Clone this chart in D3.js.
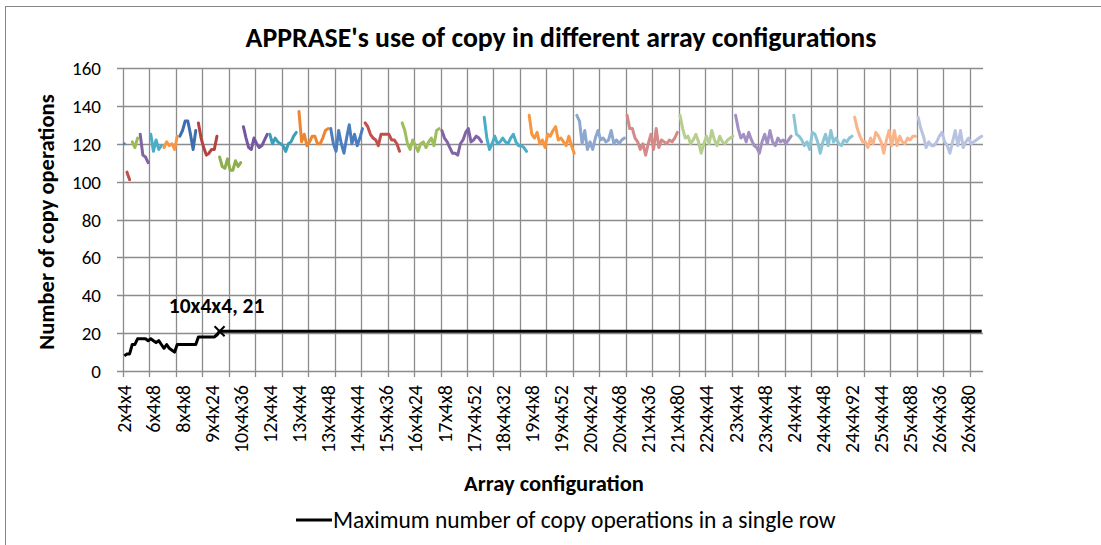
<!DOCTYPE html>
<html>
<head>
<meta charset="utf-8">
<script src="https://cdn.jsdelivr.net/npm/d3@7"></script>
<style>
  body { margin: 0; background: #fff; }
  text { font-family: Carlito, Calibri, Lato, sans-serif; fill: #000; }
</style>
</head>
<body>
<svg id="chart" width="1101" height="545"></svg>
<script>
// rows in the array (first number of AxBxC); each row r has columns 4 .. 4*(r-1)
var rows = [2,3,4,5,6,7,8,9,10,11,12,13,14,15,16,17,18,19,20,21,22,23,24,25,26];
var tickLabels = ["2x4x4","6x4x8","8x4x8","9x4x24","10x4x36","12x4x4","13x4x4","13x4x48","14x4x44","15x4x36",
  "16x4x24","17x4x8","17x4x52","18x4x32","19x4x8","19x4x52","20x4x24","20x4x68","21x4x36","21x4x80",
  "22x4x44","23x4x4","23x4x48","24x4x4","24x4x48","24x4x92","25x4x44","25x4x88","26x4x36","26x4x80"];
var yTicks = [0,20,40,60,80,100,120,140,160];

// copy operations, one array per row
var copySeries = [
  [120],
  [105,101],
  [121,118,123],
  [125,114,113,110],
  [125,116,122,117,119],
  [118,121,119,120,117,124],
  [124,127,132,132,125,117,127],
  [131,123,118,114,115,117,117,124],
  [113,108,107,112,106,106,111,108,110],
  [129,123,118,117,123,120,118,119,122,125],
  [125,120,123,121,120,119,116,120,121,124,126],
  [137,121,125,119,121,124,124,120,120,123,127,128],
  [128,120,116,127,120,115,123,130,120,125,119,123,128],
  [131,129,125,123,122,119,125,125,125,125,122,122,120,116],
  [131,127,120,117,122,119,116,120,121,118,121,123,119,127,128],
  [127,123,121,118,115,115,114,120,122,126,128,121,122,124,123,121],
  [134,123,117,120,124,120,121,123,121,120,123,125,121,119,119,118,116],
  [135,125,123,126,120,122,118,125,124,127,129,122,123,121,119,124,119,115],
  [135,132,120,127,117,121,117,123,127,122,123,121,122,127,120,122,120,122,123],
  [135,128,128,123,121,117,120,114,120,125,117,128,118,122,121,120,122,121,123,126],
  [135,128,123,124,120,122,125,121,115,120,124,120,127,122,119,124,121,120,122,123,124],
  [135,128,123,125,121,126,122,119,118,115,121,125,120,127,121,119,123,121,122,120,122,124],
  [135,125,124,122,119,121,117,126,125,121,115,121,125,119,127,121,123,120,119,122,121,123,124],
  [134,128,124,121,121,118,123,120,126,124,121,115,122,127,119,127,119,124,121,120,123,122,124,124],
  [134,128,124,118,121,119,119,121,124,126,121,119,115,121,127,119,127,118,121,123,120,121,122,123,124]
];
// maximum number of copy operations in a single row, first configurations, then flat
var maxRowStart = [8,9,9,14,14,17,17,17,17,16,17,16,15,16,14,12,14,12,11,10,14,14,14,14,14,14,14,14,18,18,18,18,18,18,18,19,21];
var maxRowPlateau = 21;
var markLabel = "10x4x4, 21";

var seriesColors = [
  "#4F81BD","#C0504D","#9BBB59","#8064A2","#4BACC6","#F79646",
  "#3B6FB0","#B5423E","#8CAF4C","#7457A0","#3A9FBA","#EE8630",
  "#4A7EBF","#C34E4A","#9DBE5A","#8163A6","#48ADC9","#F8963F",
  "#8DA7D0","#D38A88","#B6CE8E","#A390C2","#8BC4D7","#F9B48A",
  "#B7C3E0"
];

(function() {
  // category names
  var categories = [];
  rows.forEach(function(r) {
    for (var c = 1; c < r; c++) categories.push(r + "x4x" + (4 * c));
  });

  var svg = d3.select("#chart");
  var plotLeft = 123, plotRight = 983, plotTop = 68, plotBottom = 371;

  var x = d3.scaleBand().domain(categories).range([plotLeft, plotRight]).padding(0);
  var y = d3.scaleLinear().domain([0, 160]).range([plotBottom, plotTop]);
  var bw = x.bandwidth();
  function cx(name) { return x(name) + bw / 2; }

  // chart area border
  svg.append("rect")
    .attr("x", 5.5).attr("y", 6.5).attr("width", 1100).attr("height", 545)
    .attr("fill", "#fff").attr("stroke", "#868686").attr("stroke-width", 1);

  // horizontal gridlines
  svg.append("g").selectAll("line").data(yTicks).enter().append("line")
    .attr("x1", plotLeft - 6).attr("x2", plotRight)
    .attr("y1", function(d) { return Math.round(y(d)) + 0.5; })
    .attr("y2", function(d) { return Math.round(y(d)) + 0.5; })
    .attr("stroke", "#8c8c8c").attr("stroke-width", 1.3);

  // vertical gridlines every 10 categories
  var vIdx = d3.range(0, categories.length, 10);
  svg.append("g").selectAll("line").data(vIdx).enter().append("line")
    .attr("x1", function(d) { return Math.round(x(categories[d])) + 0.5; })
    .attr("x2", function(d) { return Math.round(x(categories[d])) + 0.5; })
    .attr("y1", plotTop).attr("y2", plotBottom + 6)
    .attr("stroke", "#8c8c8c").attr("stroke-width", 1.3);

  // y tick labels
  svg.append("g").selectAll("text").data(yTicks).enter().append("text")
    .attr("x", 101).attr("y", function(d) { return y(d) + 7; })
    .attr("text-anchor", "end").style("font-size", "19px")
    .text(function(d) { return d; });

  // x tick labels (rotated)
  svg.append("g").selectAll("text").data(tickLabels).enter().append("text")
    .attr("transform", function(d) { return "translate(" + (cx(d) + 7) + "," + 385 + ") rotate(-90)"; })
    .attr("text-anchor", "end").style("font-size", "20px")
    .text(function(d) { return d; });

  // colored series
  var line = d3.line()
    .x(function(d) { return cx(d.cat); })
    .y(function(d) { return y(d.v); });
  var pos = 0;
  copySeries.forEach(function(vals, s) {
    var pts = vals.map(function(v, j) { return { cat: categories[pos + j], v: v }; });
    pos += vals.length;
    svg.append("path").datum(pts)
      .attr("d", line)
      .attr("fill", "none")
      .attr("stroke", seriesColors[s])
      .attr("stroke-width", 3)
      .attr("stroke-linejoin", "round")
      .attr("stroke-linecap", "round");
  });

  // maximum per row line
  var maxPts = maxRowStart.map(function(v, i) { return { cat: categories[i], v: v }; });
  maxPts.push({ cat: categories[categories.length - 1], v: maxRowPlateau });
  svg.append("path").datum(maxPts)
    .attr("d", line)
    .attr("fill", "none")
    .attr("stroke", "#000")
    .attr("stroke-width", 3)
    .attr("stroke-linejoin", "round");

  // marked point
  var mi = maxRowStart.length - 1;
  var mx = cx(categories[mi]), my = y(maxRowStart[mi]);
  svg.append("path")
    .attr("d", "M" + (mx - 5) + "," + (my - 5) + "L" + (mx + 5) + "," + (my + 5) +
               "M" + (mx - 5) + "," + (my + 5) + "L" + (mx + 5) + "," + (my - 5))
    .attr("stroke", "#000").attr("stroke-width", 2);
  svg.append("text")
    .attr("x", mx - 3).attr("y", my - 18)
    .attr("text-anchor", "middle")
    .style("font-size", "21.5px").style("font-weight", "bold")
    .text(markLabel);

  // titles
  svg.append("text")
    .attr("x", 561).attr("y", 47)
    .attr("text-anchor", "middle")
    .style("font-size", "27.8px").style("font-weight", "bold")
    .text("APPRASE's use of copy in different array configurations");

  svg.append("text")
    .attr("transform", "translate(54,222) rotate(-90)")
    .attr("text-anchor", "middle")
    .style("font-size", "22.5px").style("font-weight", "bold")
    .text("Number of copy operations");

  svg.append("text")
    .attr("x", 554).attr("y", 491)
    .attr("text-anchor", "middle")
    .style("font-size", "22.5px").style("font-weight", "bold")
    .text("Array configuration");

  // legend
  svg.append("line")
    .attr("x1", 296).attr("x2", 332).attr("y1", 520).attr("y2", 520)
    .attr("stroke", "#000").attr("stroke-width", 3);
  svg.append("text")
    .attr("x", 333).attr("y", 528)
    .style("font-size", "23.5px")
    .text("Maximum number of copy operations in a single row");
})();
</script>
</body>
</html>
